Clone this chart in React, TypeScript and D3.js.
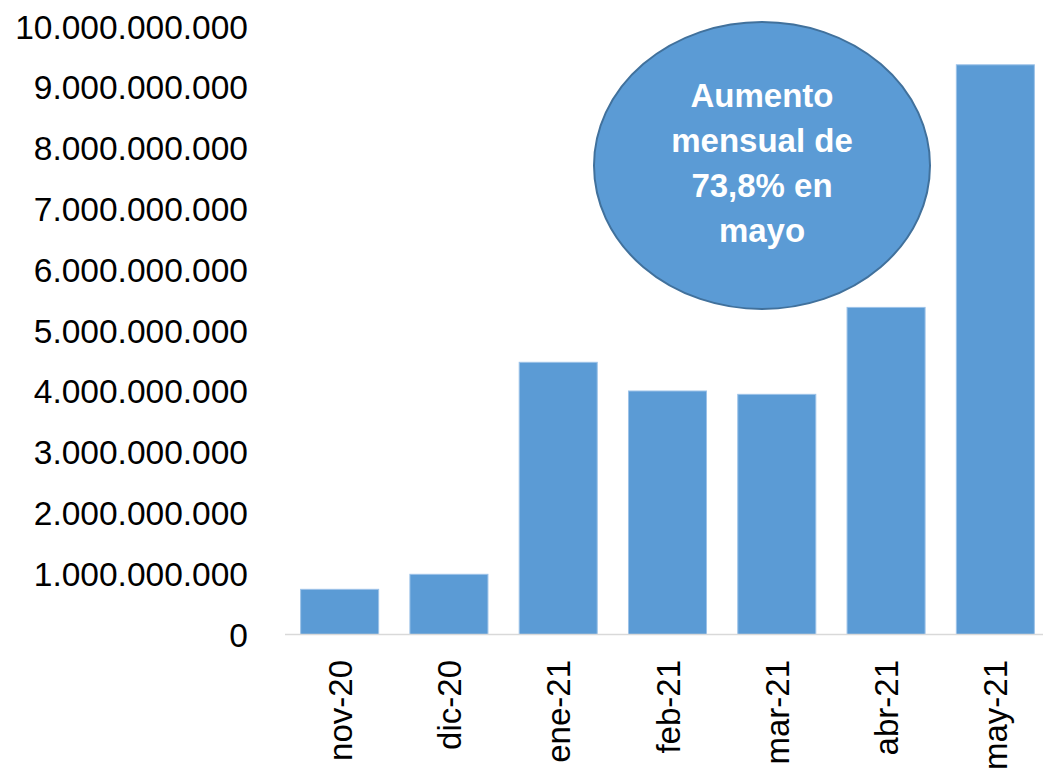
import React, { useEffect, useRef } from 'react';
import * as d3 from 'd3';

// Chart data
const months: string[] = ['nov-20', 'dic-20', 'ene-21', 'feb-21', 'mar-21', 'abr-21', 'may-21'];
const values: number[] = [743000000, 990000000, 4477000000, 4005000000, 3950000000, 5380000000, 9370000000];
const yTicks: number[] = [0, 1e9, 2e9, 3e9, 4e9, 5e9, 6e9, 7e9, 8e9, 9e9, 1e10];
const calloutLines: string[] = ['Aumento', 'mensual de', '73,8% en', 'mayo'];

const App: React.FC = () => {
  const svgRef = useRef<SVGSVGElement>(null);

  useEffect(() => {
    if (!svgRef.current) return;
    document.body.style.margin = '0';

    const svg = d3.select(svgRef.current);
    svg.selectAll('*').remove(); // Clear previous render

    const width = 1043;
    const height = 770;
    svg.attr('width', width).attr('height', height);

    const font = '"Liberation Sans", Arial, sans-serif';

    // Scales
    const x = d3.scaleBand<string>()
      .domain(months)
      .range([285, 1050])
      .paddingInner(0.286)
      .paddingOuter(0.143);

    const y = d3.scaleLinear()
      .domain([0, 1e10])
      .range([634.5, 26.5]);

    // Y tick labels (Spanish formatting: dot thousands separator)
    const fmt = d3.formatLocale({ decimal: ',', thousands: '.', grouping: [3], currency: ['', ''] }).format(',d');

    svg.append('g')
      .selectAll('text')
      .data(yTicks)
      .enter().append('text')
      .attr('x', 248)
      .attr('y', d => y(d))
      .attr('dy', '0.36em')
      .attr('text-anchor', 'end')
      .style('font-family', font)
      .style('font-size', '33.5px')
      .style('fill', '#000')
      .text(d => fmt(d));

    // Bars
    svg.append('g')
      .selectAll('rect')
      .data(values)
      .enter().append('rect')
      .attr('x', (_, i) => x(months[i]) as number)
      .attr('y', d => y(d))
      .attr('width', x.bandwidth())
      .attr('height', d => y(0) - y(d))
      .style('fill', '#5b9bd5')
      .style('stroke', '#9cc2e8')
      .style('stroke-width', 1);

    // Baseline
    svg.append('line')
      .attr('x1', 285)
      .attr('x2', width)
      .attr('y1', y(0))
      .attr('y2', y(0))
      .style('stroke', '#d9d9d9')
      .style('stroke-width', 1.5);

    // X labels, rotated
    svg.append('g')
      .selectAll('text')
      .data(months)
      .enter().append('text')
      .attr('transform', d => `translate(${(x(d) as number) + x.bandwidth() / 2 + 12},660) rotate(-90)`)
      .attr('text-anchor', 'end')
      .style('font-family', font)
      .style('font-size', '33px')
      .style('fill', '#000')
      .text(d => d);

    // Callout ellipse
    const callout = svg.append('g');
    callout.append('ellipse')
      .attr('cx', 762)
      .attr('cy', 165.5)
      .attr('rx', 168)
      .attr('ry', 143.5)
      .style('fill', '#5b9bd5')
      .style('stroke', '#41719c')
      .style('stroke-width', 2);

    callout.selectAll('text')
      .data(calloutLines)
      .enter().append('text')
      .attr('x', 762)
      .attr('y', (_, i) => 107 + i * 45)
      .attr('text-anchor', 'middle')
      .style('font-family', font)
      .style('font-size', '33px')
      .style('font-weight', 'bold')
      .style('fill', '#fff')
      .text(d => d);
  }, []);

  return (
    <div style={{ width: 1043, height: 770, background: '#fff' }}>
      <svg ref={svgRef} style={{ display: 'block' }}></svg>
    </div>
  );
};

export default App;
